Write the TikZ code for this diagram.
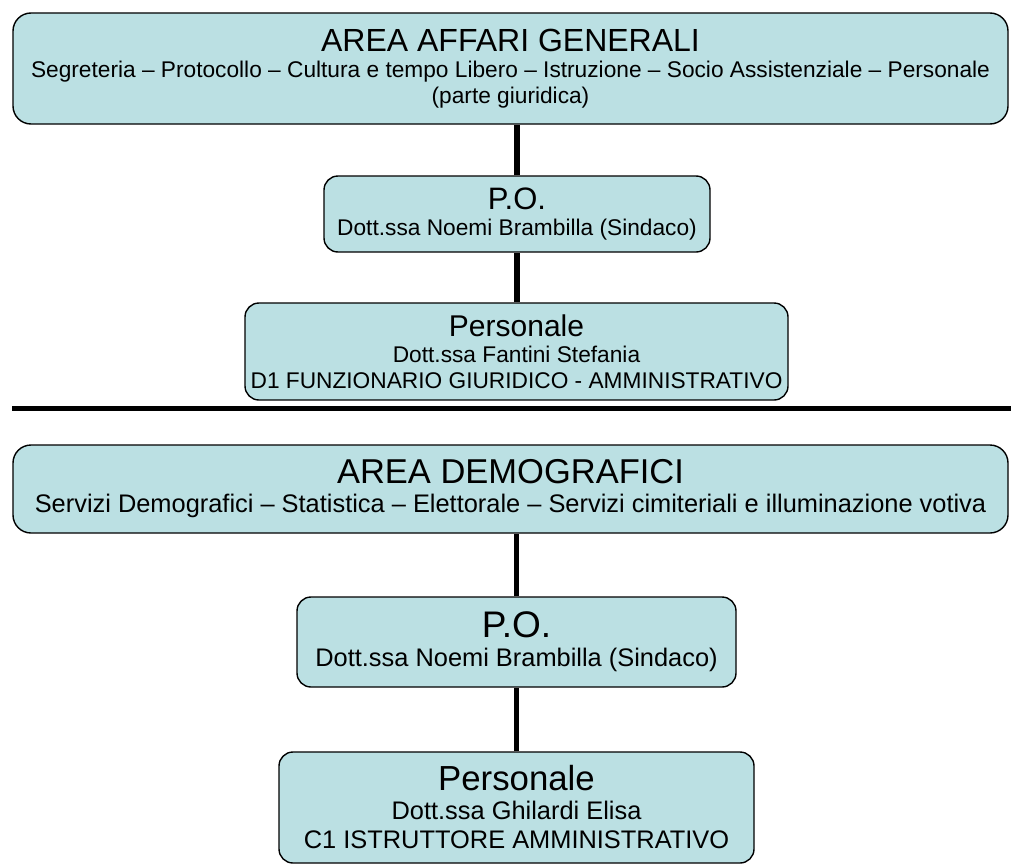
\documentclass[tikz,border=0pt]{standalone}
\usepackage{fontspec}
\setmainfont{Liberation Sans}
\definecolor{boxfill}{RGB}{187,224,227}
\begin{document}
\begin{tikzpicture}[x=1pt,y=-1pt,
  box/.style={draw=black, line width=1.4pt, fill=boxfill, rounded corners=14pt,
    inner sep=0pt, align=center, anchor=center},
  conn/.style={line width=5.5pt, draw=black},
  fsA/.style={font=\fontsize{22.7}{26}\selectfont},
  fsB/.style={font=\fontsize{25.4}{29}\selectfont}]
\useasboundingbox (0,0) rectangle (1011,867);
% upper section
\node[box, fsA, rounded corners=18pt, minimum width=995pt, minimum height=111pt] (b1) at (510.5,68.5)
  {{\fontsize{32}{34}\selectfont AREA AFFARI GENERALI}\\
   Segreteria – Protocollo – Cultura e tempo Libero – Istruzione – Socio Assistenziale – Personale\\
   (parte giuridica)};
\node[box, fsA, minimum width=386pt, minimum height=76pt] (b2) at (517,214)
  {{\fontsize{31}{33}\selectfont P.O.}\\ Dott.ssa Noemi Brambilla (Sindaco)};
\node[box, fsA, minimum width=543pt, minimum height=97pt] (b3) at (516.5,351.5)
  {{\fontsize{30}{32}\selectfont Personale}\\ Dott.ssa Fantini Stefania\\ D1 FUNZIONARIO GIURIDICO - AMMINISTRATIVO};
\draw[conn] (b2.north) -- (b2.north |- b1.south);
\draw[conn] (b3.north -| b2.south) -- (b2.south);
% rule
\coordinate (rl) at (12,408);
\coordinate (rr) at (1011,408);
\draw[line width=5pt] (rl) -- (rr);
% lower section
\node[box, fsB, rounded corners=18pt, minimum width=995pt, minimum height=88pt] (b4) at (510.5,489)
  {{\fontsize{34.5}{36}\selectfont AREA DEMOGRAFICI}\\
   Servizi Demografici – Statistica – Elettorale – Servizi cimiteriali e illuminazione votiva};
\node[box, fsB, minimum width=439pt, minimum height=90pt] (b5) at (516.5,642)
  {{\fontsize{37}{39}\selectfont P.O.}\\ Dott.ssa Noemi Brambilla (Sindaco)};
\node[box, fsB, minimum width=475pt, minimum height=111pt] (b6) at (516.5,807.5)
  {{\fontsize{34.8}{37}\selectfont Personale}\\ Dott.ssa Ghilardi Elisa\\ C1 ISTRUTTORE AMMINISTRATIVO};
\draw[conn] (b5.north) -- (b5.north |- b4.south);
\draw[conn] (b6.north) -- (b5.south);
\end{tikzpicture}
\end{document}
